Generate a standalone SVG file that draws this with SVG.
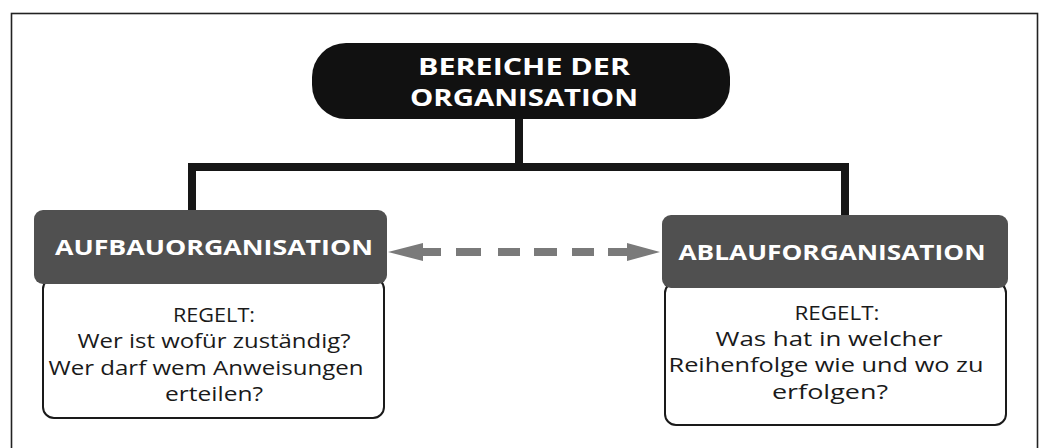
<svg xmlns="http://www.w3.org/2000/svg" width="1040" height="448" viewBox="0 0 1040 448">
  <defs>
    <style>
      .frame { fill: none; stroke: #222; stroke-width: 1.6; }
      .pill { fill: #111; }
      .head { fill: #505050; }
      .body { fill: #fff; stroke: #1a1a1a; stroke-width: 2; }
      .link { fill: none; stroke: #161616; stroke-width: 8; stroke-linejoin: miter; }
      .ttl { font-family: "Open Sans", "Liberation Sans", sans-serif; font-weight: bold; fill: #fff; text-anchor: middle; }
      .txt { font-family: "Open Sans", "Liberation Sans", sans-serif; font-size: 19.5px; fill: #1a1a1a; text-anchor: middle; }
      .dash { fill: #7a7a7a; }
    </style>
  </defs>

  <rect width="1040" height="448" fill="#fff"/>
  <rect class="frame" x="11.5" y="13.5" width="1026" height="460"/>

  <!-- tree connectors and the two-way dashed relation -->
  <g id="connectors">
    <path class="link" d="M519 118 V167"/>
    <path class="link" d="M192 212 V167 H845 V216"/>
    <g id="relation">
      <polygon class="dash" points="388,252 423,243 423,248 441,248 441,256 423,256 423,261"/>
      <rect class="dash" x="456" y="248" width="25" height="8"/>
      <rect class="dash" x="498" y="248" width="22" height="8"/>
      <rect class="dash" x="534" y="248" width="23" height="8"/>
      <rect class="dash" x="572" y="248" width="22" height="8"/>
      <polygon class="dash" points="660,252 627,243 627,248 608,248 608,256 627,256 627,261"/>
    </g>
  </g>

  <g id="root">
    <rect class="pill" x="312" y="43" width="418" height="76" rx="34" ry="34"/>
    <text class="ttl" x="524" y="75" font-size="24" textLength="212" lengthAdjust="spacingAndGlyphs">BEREICHE DER</text>
    <text class="ttl" x="524" y="106" font-size="24" textLength="228" lengthAdjust="spacingAndGlyphs">ORGANISATION</text>
  </g>

  <g id="aufbau">
    <rect class="body" x="43" y="278" width="341" height="140" rx="11" ry="11"/>
    <rect class="head" x="34" y="210" width="353" height="74" rx="9" ry="9"/>
    <text class="ttl" x="214" y="255" font-size="21" textLength="318" lengthAdjust="spacingAndGlyphs">AUFBAUORGANISATION</text>
    <text class="txt" x="214" y="322" textLength="82" lengthAdjust="spacingAndGlyphs">REGELT:</text>
    <text class="txt" x="214" y="348" textLength="273" lengthAdjust="spacingAndGlyphs">Wer ist wofür zuständig?</text>
    <text class="txt" x="206" y="375" textLength="315" lengthAdjust="spacingAndGlyphs">Wer darf wem Anweisungen</text>
    <text class="txt" x="214" y="401" textLength="98" lengthAdjust="spacingAndGlyphs">erteilen?</text>
  </g>

  <g id="ablauf">
    <rect class="body" x="665" y="282" width="341" height="143" rx="11" ry="11"/>
    <rect class="head" x="662" y="215" width="346" height="73" rx="9" ry="9"/>
    <text class="ttl" x="832" y="260" font-size="21" textLength="307" lengthAdjust="spacingAndGlyphs">ABLAUFORGANISATION</text>
    <text class="txt" x="837" y="320" textLength="85" lengthAdjust="spacingAndGlyphs">REGELT:</text>
    <text class="txt" x="829" y="346" textLength="227" lengthAdjust="spacingAndGlyphs">Was hat in welcher</text>
    <text class="txt" x="826" y="372" textLength="315" lengthAdjust="spacingAndGlyphs">Reihenfolge wie und wo zu</text>
    <text class="txt" x="830" y="399" textLength="116" lengthAdjust="spacingAndGlyphs">erfolgen?</text>
  </g>
</svg>
